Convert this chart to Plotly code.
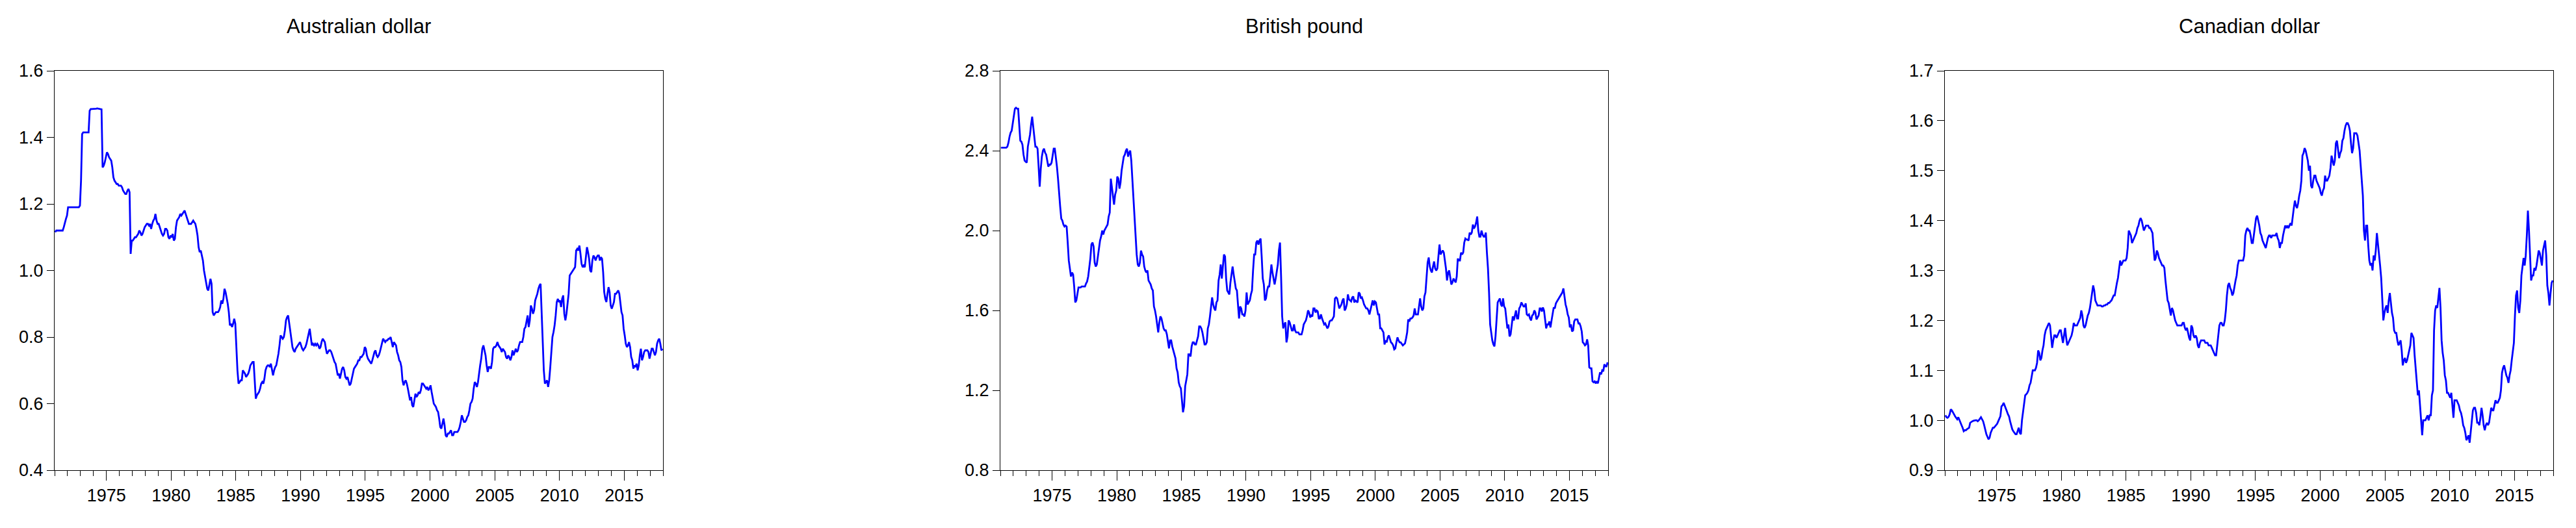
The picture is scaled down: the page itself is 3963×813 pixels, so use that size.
import numpy as np
import plotly.graph_objects as go

# monthly averages, 1971M01 - 2017M12, one row per year
aud = [
    1.115, 1.12, 1.12, 1.12, 1.12, 1.12, 1.12, 1.12, 1.13, 1.145, 1.155, 1.165,
    1.19, 1.19, 1.19, 1.19, 1.19, 1.19, 1.19, 1.19, 1.19, 1.19, 1.19, 1.195,
    1.27, 1.41, 1.415, 1.415, 1.415, 1.415, 1.415, 1.415, 1.48, 1.485, 1.485, 1.485,
    1.485, 1.486, 1.486, 1.487, 1.486, 1.485, 1.485, 1.484, 1.31, 1.315, 1.325, 1.34,
    1.355, 1.35, 1.34, 1.335, 1.33, 1.31, 1.28, 1.27, 1.265, 1.26, 1.26, 1.255,
    1.255, 1.255, 1.25, 1.24, 1.235, 1.23, 1.23, 1.24, 1.245, 1.235, 1.05, 1.09,
    1.09, 1.095, 1.10, 1.10, 1.105, 1.11, 1.12, 1.115, 1.105, 1.11, 1.12, 1.13,
    1.135, 1.14, 1.14, 1.135, 1.14, 1.125, 1.14, 1.15, 1.155, 1.17, 1.15, 1.14,
    1.14, 1.13, 1.12, 1.11, 1.105, 1.11, 1.125, 1.125, 1.12, 1.10, 1.095, 1.105,
    1.10, 1.11, 1.09, 1.095, 1.13, 1.15, 1.155, 1.16, 1.17, 1.165, 1.17, 1.175,
    1.18, 1.17, 1.16, 1.15, 1.14, 1.14, 1.14, 1.145, 1.15, 1.145, 1.14, 1.125,
    1.105, 1.07, 1.055, 1.06, 1.045, 1.03, 1.00, 0.98, 0.965, 0.945, 0.94, 0.96,
    0.975, 0.96, 0.875, 0.865, 0.87, 0.875, 0.875, 0.875, 0.88, 0.89, 0.91, 0.90,
    0.915, 0.945, 0.935, 0.92, 0.90, 0.875, 0.835, 0.84, 0.83, 0.84, 0.855, 0.84,
    0.76, 0.70, 0.66, 0.665, 0.67, 0.67, 0.70, 0.695, 0.69, 0.68, 0.685, 0.69,
    0.70, 0.715, 0.72, 0.725, 0.725, 0.68, 0.615, 0.625, 0.63, 0.635, 0.645, 0.66,
    0.665, 0.66, 0.675, 0.70, 0.71, 0.715, 0.715, 0.71, 0.72, 0.70, 0.685, 0.70,
    0.71, 0.715, 0.73, 0.75, 0.775, 0.805, 0.80, 0.795, 0.80, 0.82, 0.85, 0.86,
    0.865, 0.84, 0.81, 0.79, 0.77, 0.76, 0.755, 0.765, 0.77, 0.775, 0.78, 0.785,
    0.775, 0.765, 0.76, 0.765, 0.77, 0.78, 0.795, 0.81, 0.825, 0.80, 0.775, 0.78,
    0.775, 0.78, 0.775, 0.78, 0.775, 0.765, 0.77, 0.785, 0.795, 0.79, 0.785, 0.765,
    0.75, 0.755, 0.76, 0.76, 0.755, 0.745, 0.735, 0.725, 0.72, 0.70, 0.685, 0.69,
    0.675, 0.69, 0.705, 0.71, 0.70, 0.68, 0.675, 0.68, 0.665, 0.655, 0.66, 0.675,
    0.69, 0.705, 0.71, 0.715, 0.72, 0.73, 0.73, 0.74, 0.74, 0.745, 0.75, 0.77,
    0.765, 0.745, 0.735, 0.73, 0.725, 0.72, 0.73, 0.745, 0.755, 0.76, 0.745, 0.74,
    0.745, 0.755, 0.77, 0.785, 0.795, 0.79, 0.785, 0.79, 0.79, 0.795, 0.795, 0.80,
    0.785, 0.77, 0.785, 0.78, 0.775, 0.755, 0.745, 0.73, 0.725, 0.71, 0.67, 0.655,
    0.665, 0.67, 0.66, 0.645, 0.625, 0.61, 0.62, 0.595, 0.59, 0.61, 0.63, 0.62,
    0.625, 0.635, 0.63, 0.64, 0.66, 0.66, 0.655, 0.65, 0.645, 0.65, 0.64, 0.645,
    0.655, 0.635, 0.615, 0.60, 0.595, 0.59, 0.58, 0.575, 0.555, 0.53, 0.525, 0.54,
    0.555, 0.535, 0.505, 0.50, 0.51, 0.51, 0.515, 0.52, 0.505, 0.505, 0.515, 0.515,
    0.515, 0.515, 0.52, 0.53, 0.545, 0.565, 0.555, 0.545, 0.545, 0.55, 0.56, 0.565,
    0.58, 0.60, 0.605, 0.615, 0.645, 0.665, 0.66, 0.65, 0.665, 0.695, 0.715, 0.735,
    0.765, 0.775, 0.76, 0.745, 0.715, 0.695, 0.71, 0.71, 0.705, 0.725, 0.765, 0.77,
    0.77, 0.775, 0.785, 0.775, 0.77, 0.765, 0.755, 0.765, 0.76, 0.755, 0.74, 0.735,
    0.745, 0.74, 0.73, 0.74, 0.76, 0.745, 0.755, 0.765, 0.755, 0.76, 0.775, 0.785,
    0.785, 0.785, 0.80, 0.825, 0.83, 0.845, 0.865, 0.83, 0.85, 0.895, 0.885, 0.87,
    0.88, 0.91, 0.92, 0.93, 0.945, 0.955, 0.96, 0.88, 0.80, 0.70, 0.66, 0.665,
    0.67, 0.65, 0.67, 0.71, 0.755, 0.80, 0.815, 0.835, 0.865, 0.905, 0.915, 0.905,
    0.91, 0.89, 0.915, 0.925, 0.87, 0.85, 0.87, 0.90, 0.93, 0.985, 0.99, 0.995,
    1.00, 1.005, 1.01, 1.06, 1.065, 1.06, 1.075, 1.05, 1.02, 1.01, 1.015, 1.01,
    1.04, 1.07, 1.055, 1.035, 1.00, 0.995, 1.03, 1.045, 1.04, 1.03, 1.04, 1.045,
    1.045, 1.03, 1.04, 1.035, 0.995, 0.935, 0.915, 0.905, 0.93, 0.95, 0.935, 0.895,
    0.885, 0.895, 0.905, 0.93, 0.93, 0.935, 0.94, 0.93, 0.905, 0.875, 0.865, 0.825,
    0.805, 0.78, 0.77, 0.775, 0.785, 0.77, 0.74, 0.73, 0.705, 0.715, 0.71, 0.72,
    0.70, 0.715, 0.745, 0.765, 0.73, 0.74, 0.755, 0.76, 0.76, 0.76, 0.755, 0.735,
    0.75, 0.765, 0.765, 0.755, 0.745, 0.755, 0.78, 0.79, 0.795, 0.78, 0.76, 0.765,
]

gbp = [
    2.415, 2.415, 2.415, 2.415, 2.415, 2.415, 2.42, 2.44, 2.47, 2.49, 2.50, 2.54,
    2.58, 2.61, 2.615, 2.61, 2.61, 2.52, 2.45, 2.445, 2.43, 2.38, 2.35, 2.345,
    2.34, 2.42, 2.45, 2.48, 2.53, 2.57, 2.52, 2.47, 2.42, 2.42, 2.41, 2.32,
    2.22, 2.31, 2.37, 2.40, 2.41, 2.39, 2.38, 2.35, 2.32, 2.33, 2.33, 2.34,
    2.37, 2.41, 2.41, 2.37, 2.32, 2.26, 2.18, 2.12, 2.06, 2.05, 2.03, 2.02,
    2.025, 2.02, 1.94, 1.85, 1.81, 1.77, 1.79, 1.78, 1.72, 1.64, 1.65, 1.69,
    1.715, 1.715, 1.715, 1.72, 1.72, 1.72, 1.72, 1.735, 1.745, 1.77, 1.81, 1.86,
    1.93, 1.94, 1.92, 1.84, 1.82, 1.83, 1.87, 1.92, 1.95, 1.97, 2.00, 1.98,
    2.00, 2.01, 2.02, 2.03, 2.07, 2.09, 2.26, 2.21, 2.16, 2.13, 2.18, 2.20,
    2.27, 2.26, 2.21, 2.24, 2.30, 2.33, 2.37, 2.38, 2.40, 2.41, 2.37, 2.39,
    2.40, 2.35, 2.25, 2.17, 2.08, 1.97, 1.88, 1.83, 1.82, 1.84, 1.90, 1.88,
    1.87, 1.82, 1.80, 1.79, 1.80, 1.75, 1.74, 1.73, 1.71, 1.70, 1.62, 1.60,
    1.57, 1.52, 1.49, 1.54, 1.57, 1.56, 1.53, 1.51, 1.50, 1.50, 1.48, 1.45,
    1.41, 1.45, 1.45, 1.42, 1.40, 1.38, 1.36, 1.31, 1.29, 1.24, 1.22, 1.21,
    1.15, 1.09, 1.12, 1.22, 1.25, 1.28, 1.38, 1.38, 1.37, 1.42, 1.44, 1.44,
    1.43, 1.43, 1.45, 1.47, 1.52, 1.52, 1.51, 1.49, 1.46, 1.43, 1.43, 1.44,
    1.51, 1.53, 1.57, 1.61, 1.665, 1.63, 1.61, 1.60, 1.64, 1.65, 1.75, 1.78,
    1.83, 1.76, 1.81, 1.88, 1.87, 1.76, 1.70, 1.69, 1.68, 1.74, 1.79, 1.82,
    1.78, 1.74, 1.71, 1.70, 1.63, 1.56, 1.62, 1.61, 1.58, 1.58, 1.57, 1.60,
    1.69, 1.63, 1.64, 1.65, 1.68, 1.70, 1.80, 1.88, 1.88, 1.94, 1.95, 1.93,
    1.95, 1.96, 1.87, 1.76, 1.73, 1.65, 1.66, 1.70, 1.72, 1.72, 1.77, 1.83,
    1.79, 1.76, 1.73, 1.76, 1.79, 1.83, 1.90, 1.94, 1.77, 1.57, 1.51, 1.53,
    1.54, 1.44, 1.47, 1.55, 1.54, 1.52, 1.50, 1.50, 1.53, 1.50, 1.49, 1.49,
    1.49, 1.48, 1.48, 1.48, 1.50, 1.53, 1.54, 1.55, 1.57, 1.60, 1.59, 1.565,
    1.575, 1.57, 1.61, 1.61, 1.59, 1.60, 1.595, 1.56, 1.56, 1.58, 1.56, 1.545,
    1.53, 1.535, 1.525, 1.51, 1.52, 1.545, 1.55, 1.55, 1.56, 1.57, 1.66, 1.665,
    1.66, 1.63, 1.61, 1.62, 1.63, 1.65, 1.66, 1.60, 1.61, 1.63, 1.68, 1.655,
    1.65, 1.645, 1.665, 1.67, 1.64, 1.65, 1.645, 1.64, 1.69, 1.685, 1.66, 1.665,
    1.65, 1.63, 1.62, 1.61, 1.61, 1.60, 1.58, 1.605, 1.62, 1.65, 1.625, 1.645,
    1.64, 1.61, 1.58, 1.58, 1.51, 1.51, 1.50, 1.49, 1.43, 1.45, 1.44, 1.465,
    1.475, 1.455, 1.44, 1.435, 1.425, 1.405, 1.41, 1.44, 1.465, 1.45, 1.44, 1.44,
    1.43, 1.425, 1.43, 1.435, 1.46, 1.49, 1.555, 1.545, 1.56, 1.56, 1.565, 1.575,
    1.61, 1.58, 1.58, 1.58, 1.62, 1.66, 1.62, 1.60, 1.61, 1.67, 1.69, 1.76,
    1.84, 1.865, 1.82, 1.80, 1.79, 1.82, 1.845, 1.81, 1.80, 1.81, 1.86, 1.93,
    1.88, 1.89, 1.90, 1.89, 1.85, 1.81, 1.75, 1.79, 1.80, 1.76, 1.73, 1.74,
    1.76, 1.75, 1.74, 1.77, 1.86, 1.85, 1.85, 1.89, 1.88, 1.89, 1.94, 1.96,
    1.955, 1.955, 1.95, 1.99, 1.98, 1.99, 2.03, 2.01, 2.02, 2.04, 2.07, 2.00,
    1.97, 1.97, 2.00, 1.98, 1.97, 1.97, 1.99, 1.89, 1.81, 1.69, 1.53, 1.49,
    1.45, 1.43, 1.42, 1.47, 1.54, 1.64, 1.65, 1.66, 1.63, 1.62, 1.66, 1.62,
    1.61, 1.56, 1.51, 1.53, 1.47, 1.48, 1.53, 1.57, 1.55, 1.58, 1.60, 1.56,
    1.56, 1.61, 1.62, 1.64, 1.63, 1.62, 1.62, 1.635, 1.58, 1.575, 1.58, 1.56,
    1.55, 1.575, 1.58, 1.60, 1.59, 1.555, 1.565, 1.575, 1.61, 1.61, 1.595, 1.615,
    1.60, 1.55, 1.51, 1.53, 1.53, 1.545, 1.515, 1.55, 1.585, 1.615, 1.61, 1.635,
    1.645, 1.655, 1.665, 1.675, 1.685, 1.69, 1.71, 1.67, 1.63, 1.61, 1.58, 1.565,
    1.515, 1.53, 1.495, 1.50, 1.545, 1.555, 1.555, 1.555, 1.535, 1.535, 1.52, 1.495,
    1.44, 1.435, 1.425, 1.43, 1.455, 1.425, 1.315, 1.31, 1.31, 1.245, 1.24, 1.245,
    1.235, 1.245, 1.235, 1.265, 1.29, 1.28, 1.30, 1.295, 1.33, 1.32, 1.32, 1.34,
]

cad = [
    1.010, 1.006, 1.005, 1.007, 1.012, 1.022, 1.020, 1.015, 1.012, 1.008, 1.004, 1.002,
    1.006, 1.000, 0.995, 0.990, 0.985, 0.978, 0.980, 0.980, 0.982, 0.983, 0.985, 0.995,
    0.997, 0.998, 0.999, 1.000, 1.000, 1.000, 0.998, 1.000, 1.003, 1.006, 1.002, 0.998,
    0.990, 0.980, 0.972, 0.967, 0.962, 0.965, 0.975, 0.980, 0.985, 0.985, 0.988, 0.990,
    0.993, 0.998, 1.002, 1.008, 1.028, 1.030, 1.035, 1.030, 1.025, 1.018, 1.012, 1.008,
    0.998, 0.988, 0.982, 0.978, 0.975, 0.972, 0.972, 0.980, 0.985, 0.975, 0.972, 1.000,
    1.015, 1.030, 1.050, 1.052, 1.055, 1.060, 1.070, 1.075, 1.090, 1.100, 1.100, 1.100,
    1.105, 1.115, 1.140, 1.135, 1.120, 1.125, 1.140, 1.150, 1.170, 1.180, 1.185, 1.190,
    1.195, 1.190, 1.170, 1.145, 1.160, 1.170, 1.170, 1.165, 1.170, 1.175, 1.180, 1.180,
    1.165, 1.155, 1.170, 1.185, 1.165, 1.150, 1.155, 1.160, 1.165, 1.170, 1.180, 1.195,
    1.190, 1.190, 1.190, 1.195, 1.200, 1.205, 1.220, 1.210, 1.190, 1.185, 1.190, 1.200,
    1.210, 1.215, 1.225, 1.240, 1.255, 1.270, 1.260, 1.240, 1.235, 1.230, 1.230, 1.230,
    1.230, 1.228, 1.228, 1.230, 1.230, 1.232, 1.232, 1.235, 1.235, 1.238, 1.240, 1.245,
    1.250, 1.250, 1.265, 1.275, 1.285, 1.300, 1.320, 1.310, 1.315, 1.320, 1.320, 1.320,
    1.325, 1.345, 1.380, 1.375, 1.370, 1.355, 1.360, 1.365, 1.370, 1.375, 1.385, 1.390,
    1.400, 1.405, 1.400, 1.390, 1.380, 1.385, 1.390, 1.390, 1.390, 1.385, 1.385, 1.380,
    1.375, 1.345, 1.320, 1.325, 1.340, 1.335, 1.325, 1.320, 1.315, 1.310, 1.310, 1.305,
    1.280, 1.260, 1.240, 1.235, 1.220, 1.210, 1.225, 1.220, 1.210, 1.200, 1.195, 1.190,
    1.190, 1.190, 1.190, 1.190, 1.195, 1.195, 1.185, 1.180, 1.185, 1.175, 1.165, 1.160,
    1.190, 1.185, 1.170, 1.165, 1.170, 1.165, 1.150, 1.145, 1.155, 1.160, 1.160, 1.160,
    1.160, 1.155, 1.155, 1.155, 1.150, 1.150, 1.150, 1.145, 1.140, 1.135, 1.130, 1.130,
    1.150, 1.170, 1.190, 1.195, 1.195, 1.190, 1.190, 1.200, 1.220, 1.250, 1.270, 1.275,
    1.265, 1.260, 1.250, 1.255, 1.270, 1.280, 1.290, 1.310, 1.320, 1.320, 1.320, 1.320,
    1.320, 1.330, 1.370, 1.380, 1.385, 1.380, 1.380, 1.370, 1.355, 1.355, 1.370, 1.385,
    1.405, 1.410, 1.400, 1.390, 1.375, 1.370, 1.360, 1.355, 1.350, 1.345, 1.355, 1.365,
    1.370, 1.370, 1.365, 1.370, 1.370, 1.370, 1.370, 1.375, 1.365, 1.360, 1.345, 1.355,
    1.355, 1.370, 1.380, 1.390, 1.385, 1.390, 1.385, 1.390, 1.395, 1.390, 1.410, 1.425,
    1.440, 1.430, 1.425, 1.435, 1.450, 1.460, 1.480, 1.530, 1.535, 1.545, 1.540, 1.530,
    1.520, 1.500, 1.510, 1.470, 1.465, 1.480, 1.490, 1.490, 1.480, 1.475, 1.470, 1.465,
    1.455, 1.450, 1.460, 1.465, 1.490, 1.480, 1.480, 1.485, 1.490, 1.505, 1.530, 1.520,
    1.510, 1.520, 1.555, 1.560, 1.545, 1.525, 1.535, 1.540, 1.560, 1.565, 1.580, 1.590,
    1.595, 1.595, 1.590, 1.580, 1.555, 1.535, 1.545, 1.575, 1.575, 1.575, 1.570, 1.555,
    1.540, 1.510, 1.480, 1.450, 1.380, 1.360, 1.390, 1.390, 1.350, 1.320, 1.310, 1.315,
    1.300, 1.330, 1.320, 1.340, 1.375, 1.355, 1.330, 1.310, 1.285, 1.250, 1.200, 1.215,
    1.225, 1.230, 1.215, 1.240, 1.255, 1.235, 1.215, 1.205, 1.180, 1.175, 1.175, 1.160,
    1.150, 1.155, 1.160, 1.140, 1.110, 1.120, 1.125, 1.115, 1.120, 1.130, 1.140, 1.150,
    1.175, 1.170, 1.165, 1.130, 1.100, 1.070, 1.050, 1.060, 1.030, 0.990, 0.970, 1.000,
    1.000, 1.000, 1.005, 1.010, 1.000, 1.010, 1.010, 1.050, 1.060, 1.180, 1.220, 1.230,
    1.225, 1.245, 1.265, 1.225, 1.160, 1.135, 1.120, 1.090, 1.080, 1.055, 1.055, 1.050,
    1.045, 1.055, 1.025, 1.005, 1.040, 1.040, 1.040, 1.035, 1.030, 1.020, 1.015, 1.005,
    0.990, 0.985, 0.975, 0.960, 0.965, 0.970, 0.955, 0.980, 1.000, 1.020, 1.025, 1.025,
    1.015, 0.995, 0.995, 0.990, 1.005, 1.025, 1.010, 0.990, 0.980, 0.990, 0.995, 0.990,
    0.995, 1.010, 1.025, 1.020, 1.020, 1.030, 1.040, 1.035, 1.035, 1.040, 1.045, 1.060,
    1.095, 1.105, 1.110, 1.100, 1.090, 1.085, 1.075, 1.090, 1.100, 1.120, 1.135, 1.155,
    1.210, 1.250, 1.260, 1.225, 1.215, 1.240, 1.290, 1.310, 1.325, 1.310, 1.330, 1.370,
    1.420, 1.380, 1.320, 1.280, 1.290, 1.290, 1.305, 1.300, 1.310, 1.325, 1.340, 1.335,
    1.320, 1.310, 1.340, 1.350, 1.360, 1.330, 1.270, 1.255, 1.230, 1.255, 1.275, 1.280,
]

titles = ["Australian dollar", "British pound", "Canadian dollar"]
series = [aud, gbp, cad]
y_ranges = [[0.4, 1.6], [0.8, 2.8], [0.9, 1.7]]
y_steps = [0.2, 0.4, 0.1]
year_ticks = [1975, 1980, 1985, 1990, 1995, 2000, 2005, 2010, 2015]

start_year = 1971
end_year = 2018

W, H = 3963, 813
# plot boxes in pixels (left, right); shared top/bottom
boxes = [(84, 1020), (1539, 2474), (2992, 3928)]
top_px, bottom_px = 109, 724

tick_font = dict(family="Liberation Sans, Arial, sans-serif", size=27, color="black")
title_font = dict(family="Liberation Sans, Arial, sans-serif", size=31, color="black")

fig = go.Figure()
for i, (vals, title) in enumerate(zip(series, titles)):
    n = len(vals)
    t = start_year + (np.arange(n) + 0.5) / 12.0
    sfx = "" if i == 0 else str(i + 1)
    fig.add_trace(go.Scatter(
        x=t, y=vals, mode="lines",
        line=dict(color="#0000FF", width=2.8),
        xaxis="x" + sfx, yaxis="y" + sfx,
        showlegend=False, hoverinfo="skip",
    ))

    left, right = boxes[i]
    dom_x = [left / W, right / W]
    dom_y = [(H - bottom_px) / H, (H - top_px) / H]
    fig.layout["xaxis" + sfx] = dict(
        domain=dom_x, range=[start_year, end_year], anchor="y" + sfx,
        tickmode="array", tickvals=year_ticks, ticktext=[str(y) for y in year_ticks],
        ticks="outside", ticklen=15, tickwidth=1, tickcolor="black",
        minor=dict(ticks="outside", ticklen=8, tickwidth=1, tickcolor="black",
                   tickmode="linear", tick0=start_year, dtick=1),
        showline=True, linecolor="black", linewidth=1, mirror=True,
        showgrid=False, zeroline=False, tickfont=tick_font, automargin=False,
    )
    lo, hi = y_ranges[i]
    fig.layout["yaxis" + sfx] = dict(
        domain=dom_y, range=[lo, hi], anchor="x" + sfx,
        tickmode="linear", tick0=lo, dtick=y_steps[i], tickformat=".1f",
        ticks="outside", ticklen=11, tickwidth=1, tickcolor="black",
        showline=True, linecolor="black", linewidth=1, mirror=True,
        showgrid=False, zeroline=False, tickfont=tick_font, automargin=False,
    )
    fig.add_annotation(
        text=title, x=(left + right) / 2 / W, y=(H - 41) / H,
        xref="paper", yref="paper", xanchor="center", yanchor="middle",
        showarrow=False, font=title_font,
    )

fig.update_layout(
    width=W, height=H,
    margin=dict(l=0, r=0, t=0, b=0, pad=0, autoexpand=False),
    paper_bgcolor="white", plot_bgcolor="white",
)

# drop the browser's default body margin so the figure sits at the page corner
fig.write_html("out.html",
               config={"displayModeBar": False},
               post_script="document.body.style.margin='0';"
                           "document.body.style.overflow='hidden';")
